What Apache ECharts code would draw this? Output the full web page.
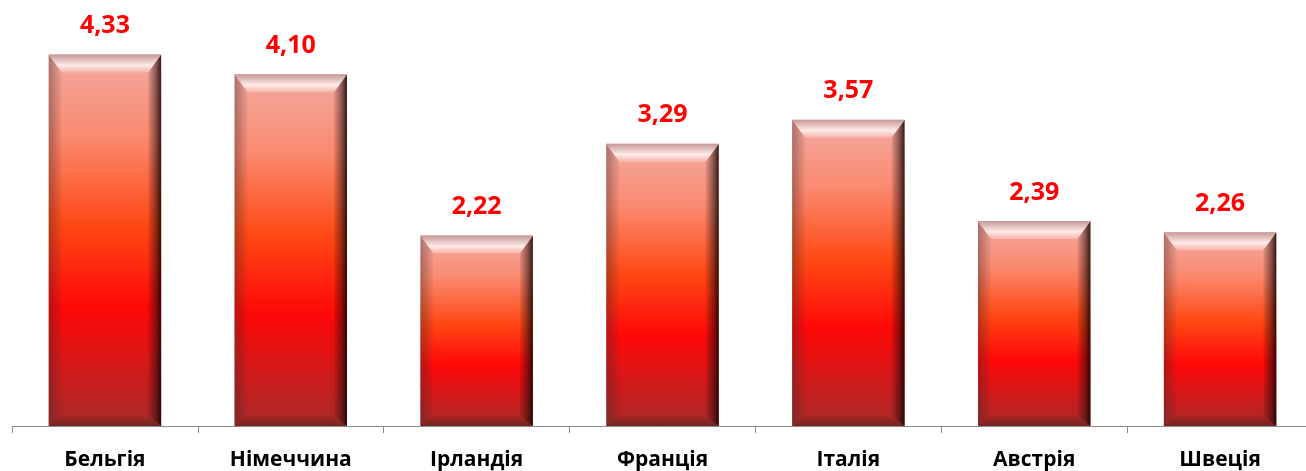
<!DOCTYPE html>
<html>
<head>
<meta charset="utf-8">
<script src="https://cdn.jsdelivr.net/npm/echarts@6/dist/echarts.min.js"></script>
<style>html,body{margin:0;padding:0;background:#fff;}#c{width:1306px;height:471px;}</style>
</head>
<body>
<div id="c"></div>
<script>
const categories = ['Бельгія', 'Німеччина', 'Ірландія', 'Франція', 'Італія', 'Австрія', 'Швеція'];
const values = [4.33, 4.10, 2.22, 3.29, 3.57, 2.39, 2.26];

const chart = echarts.init(document.getElementById('c'));
const FONT = '"Open Sans", "Noto Sans", sans-serif';
const G = echarts.graphic.LinearGradient;

function bevels(params, api) {
  const idx = api.value(0), v = api.value(1);
  const t = api.coord([idx, v]);
  const b0 = api.coord([idx, 0]);
  const bw = api.size([1, 0])[0] * 0.605;
  const x0 = t[0] - bw / 2, x1 = t[0] + bw / 2, yT = t[1], yB = b0[1];
  const s = 13, tp = 18, bt = 10;
  return {
    type: 'group',
    children: [
      { type: 'polygon', shape: { points: [[x0, yT], [x0 + s, yT + tp], [x0 + s, yB - bt], [x0, yB]] },
        style: { fill: new G(0, 0, 1, 0, [{ offset: 0, color: 'rgba(70,40,40,0.42)' }, { offset: 1, color: 'rgba(70,40,40,0.04)' }]) } },
      { type: 'polygon', shape: { points: [[x1, yT], [x1 - s, yT + tp], [x1 - s, yB - bt], [x1, yB]] },
        style: { fill: new G(0, 0, 1, 0, [{ offset: 0, color: 'rgba(40,10,10,0.08)' }, { offset: 0.6, color: 'rgba(30,10,10,0.5)' }, { offset: 1, color: 'rgba(20,0,0,0.85)' }]) } },
      { type: 'polygon', shape: { points: [[x0, yB], [x1, yB], [x1 - s, yB - bt], [x0 + s, yB - bt]] },
        style: { fill: new G(0, 1, 0, 0, [{ offset: 0, color: 'rgba(70,30,30,0.55)' }, { offset: 1, color: 'rgba(70,30,30,0.08)' }]) } },
      { type: 'polygon', shape: { points: [[x0, yT], [x1, yT], [x1 - s, yT + tp], [x0 + s, yT + tp]] },
        style: { fill: new G(0, 0, 0, 1, [{ offset: 0, color: 'rgba(195,150,148,0.95)' }, { offset: 0.6, color: 'rgba(255,240,238,0.95)' }, { offset: 1, color: 'rgba(248,195,185,0.6)' }]) } }
    ]
  };
}

chart.setOption({
  animation: false,
  grid: { left: 12, width: 1301, top: 40, bottom: 45, outerBoundsMode: 'none' },
  xAxis: {
    type: 'category',
    data: categories,
    axisLine: { lineStyle: { color: '#8c8c8c', width: 1 } },
    axisTick: { show: true, length: 7, lineStyle: { color: '#8c8c8c', width: 1 } },
    axisLabel: { color: '#000', fontWeight: 'bold', fontSize: 21, fontFamily: FONT, margin: 24 }
  },
  yAxis: { type: 'value', min: 0, max: 4.5, show: false, splitLine: { show: false } },
  series: [
    {
      type: 'bar',
      data: values,
      barWidth: '60.5%',
      itemStyle: {
        color: new G(0, 0, 0, 1, [
          { offset: 0, color: '#f2aaa2' },
          { offset: 0.22, color: '#fa8a70' },
          { offset: 0.46, color: '#ff4814' },
          { offset: 0.68, color: '#ff0808' },
          { offset: 1, color: '#a82a2a' }
        ])
      },
      label: {
        show: true, position: 'top', distance: 16,
        color: '#ff0000', fontWeight: 'bold', fontSize: 25, fontFamily: FONT,
        formatter: p => p.value.toFixed(2).replace('.', ',')
      }
    },
    {
      type: 'custom',
      renderItem: bevels,
      data: values.map((v, i) => [i, v]),
      z: 5,
      silent: true
    }
  ]
});
</script>
</body>
</html>
